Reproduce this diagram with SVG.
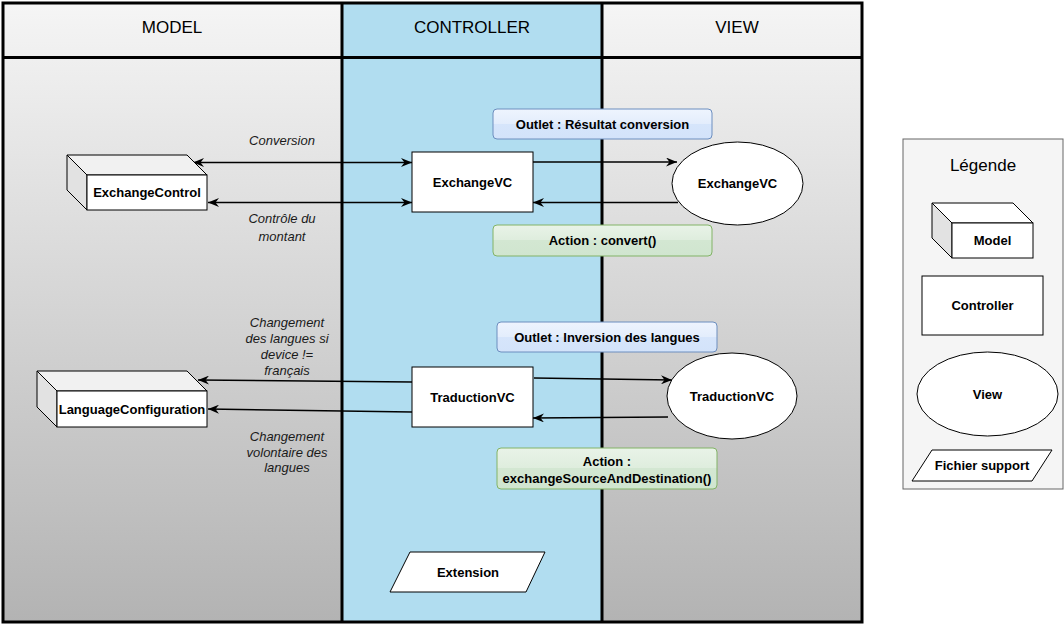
<svg xmlns="http://www.w3.org/2000/svg" width="1064" height="625" viewBox="0 0 1064 625">
  <style>
    .title { font-family: "Liberation Sans", Arial, sans-serif; font-size: 17px; fill: #000; text-anchor: middle; }
    .lbl { font-family: "Liberation Sans", Arial, sans-serif; font-size: 13px; font-weight: bold; fill: #000; text-anchor: middle; }
    .edge-lbl { font-family: "Liberation Sans", Arial, sans-serif; font-size: 13px; font-style: italic; fill: #1a1a1a; text-anchor: middle; }
    .box { fill: #ffffff; stroke: #000; stroke-width: 1; }
    .face-top { fill: #f1f1f1; stroke: #000; stroke-width: 1; }
    .face-left { fill: #e2e2e2; stroke: #000; stroke-width: 1; }
    .lane-line { stroke: #000; stroke-width: 3; fill: none; }
    .conn { stroke: #000; stroke-width: 1.6; fill: none; }
    .outlet { fill: url(#outletFill); stroke: #6c8ebf; stroke-width: 1; }
    .action { fill: url(#actionFill); stroke: #82b366; stroke-width: 1; }
  </style>
  <defs>
    <linearGradient id="laneFill" gradientUnits="userSpaceOnUse" x1="0" y1="3" x2="0" y2="622">
      <stop offset="0" stop-color="#f5f5f5"/>
      <stop offset="1" stop-color="#b3b3b3"/>
    </linearGradient>
    <linearGradient id="outletFill" x1="0" y1="0" x2="0" y2="1">
      <stop offset="0" stop-color="#eef4fe"/>
      <stop offset="0.5" stop-color="#e3edfc"/>
      <stop offset="0.5" stop-color="#d6e5fb"/>
      <stop offset="1" stop-color="#d3e3fa"/>
    </linearGradient>
    <linearGradient id="actionFill" x1="0" y1="0" x2="0" y2="1">
      <stop offset="0" stop-color="#e9f3e8"/>
      <stop offset="0.5" stop-color="#deeddd"/>
      <stop offset="0.5" stop-color="#d3e7d2"/>
      <stop offset="1" stop-color="#d0e5cf"/>
    </linearGradient>
    <marker id="arrow" viewBox="0 0 11 9" refX="11" refY="4.5" markerWidth="11" markerHeight="9" markerUnits="userSpaceOnUse" orient="auto-start-reverse">
      <path d="M0,0 L11,4.5 L0,9 L3.5,4.5 Z" fill="#000"/>
    </marker>
  </defs>

  <rect width="1064" height="625" fill="#ffffff"/>

  <!-- swimlanes -->
  <g id="lanes">
    <rect x="3" y="3" width="339" height="619" fill="url(#laneFill)"/>
    <rect x="342" y="3" width="260" height="619" fill="#b1ddf0"/>
    <rect x="602" y="3" width="260" height="619" fill="url(#laneFill)"/>
    <line class="lane-line" x1="3" y1="57.5" x2="862" y2="57.5"/>
    <line class="lane-line" x1="342" y1="3" x2="342" y2="622"/>
    <line class="lane-line" x1="602" y1="3" x2="602" y2="622"/>
    <rect class="lane-line" x="3" y="3" width="859" height="619"/>
    <text class="title" x="172" y="33">MODEL</text>
    <text class="title" x="472" y="33">CONTROLLER</text>
    <text class="title" x="737" y="33">VIEW</text>
  </g>

  <!-- connectors -->
  <g id="connectors">
    <line class="conn" x1="412" y1="162.5" x2="193" y2="162.5" marker-start="url(#arrow)" marker-end="url(#arrow)"/>
    <line class="conn" x1="412" y1="202.5" x2="208" y2="202.5" marker-start="url(#arrow)" marker-end="url(#arrow)"/>
    <line class="conn" x1="533" y1="162" x2="677" y2="162" marker-end="url(#arrow)"/>
    <line class="conn" x1="678" y1="202.5" x2="533" y2="202.5" marker-end="url(#arrow)"/>
    <line class="conn" x1="412" y1="382" x2="198" y2="380" marker-end="url(#arrow)"/>
    <line class="conn" x1="412" y1="412" x2="208" y2="409" marker-end="url(#arrow)"/>
    <line class="conn" x1="534" y1="378" x2="672" y2="380" marker-end="url(#arrow)"/>
    <line class="conn" x1="668" y1="417" x2="533" y2="418" marker-end="url(#arrow)"/>
    <text class="edge-lbl" x="282" y="145">Conversion</text>
    <text class="edge-lbl" x="282" y="223">Contrôle du</text>
    <text class="edge-lbl" x="282" y="241">montant</text>
    <text class="edge-lbl" x="287" y="327">Changement</text>
    <text class="edge-lbl" x="287" y="343">des langues si</text>
    <text class="edge-lbl" x="287" y="359">device !=</text>
    <text class="edge-lbl" x="287" y="375">français</text>
    <text class="edge-lbl" x="287" y="441">Changement</text>
    <text class="edge-lbl" x="287" y="457">volontaire des</text>
    <text class="edge-lbl" x="287" y="472">langues</text>
  </g>

  <!-- model nodes -->
  <g id="exchange-control">
    <polygon class="face-top" points="67,155 187,155 207,175 87,175"/>
    <polygon class="face-left" points="67,155 87,175 87,210 67,190"/>
    <rect class="box" x="87" y="175" width="120" height="35"/>
    <text class="lbl" x="147" y="197">ExchangeControl</text>
  </g>
  <g id="language-configuration">
    <polygon class="face-top" points="37,371 187,371 207,391 57,391"/>
    <polygon class="face-left" points="37,371 57,391 57,427 37,407"/>
    <rect class="box" x="57" y="391" width="150" height="36"/>
    <text class="lbl" x="132" y="414">LanguageConfiguration</text>
  </g>

  <!-- controller nodes -->
  <g id="exchange-vc">
    <rect class="box" x="412" y="152" width="121" height="60"/>
    <text class="lbl" x="472.5" y="187">ExchangeVC</text>
  </g>
  <g id="traduction-vc">
    <rect class="box" x="412" y="367" width="121" height="60"/>
    <text class="lbl" x="472.5" y="402">TraductionVC</text>
  </g>
  <g id="extension">
    <polygon class="box" points="410,552 545,552 526,592 390,592"/>
    <text class="lbl" x="468" y="577">Extension</text>
  </g>

  <!-- outlets and actions -->
  <g id="outlet-resultat">
    <rect class="outlet" x="493" y="109" width="219" height="30" rx="4"/>
    <text class="lbl" x="602.5" y="129">Outlet : Résultat conversion</text>
  </g>
  <g id="action-convert">
    <rect class="action" x="493" y="225" width="219" height="31" rx="4"/>
    <text class="lbl" x="602.5" y="245">Action : convert()</text>
  </g>
  <g id="outlet-inversion">
    <rect class="outlet" x="497" y="322" width="220" height="30" rx="4"/>
    <text class="lbl" x="607" y="342">Outlet : Inversion des langues</text>
  </g>
  <g id="action-exchange">
    <rect class="action" x="497" y="448" width="220" height="41" rx="4"/>
    <text class="lbl" x="607" y="466">Action :</text>
    <text class="lbl" x="607" y="483">exchangeSourceAndDestination()</text>
  </g>

  <!-- view nodes -->
  <g id="exchange-view">
    <ellipse class="box" cx="737.5" cy="183.5" rx="65.5" ry="41.5"/>
    <text class="lbl" x="737.5" y="188">ExchangeVC</text>
  </g>
  <g id="traduction-view">
    <ellipse class="box" cx="732" cy="396" rx="65" ry="43"/>
    <text class="lbl" x="732" y="401">TraductionVC</text>
  </g>

  <!-- legend -->
  <g id="legend">
    <rect x="903" y="139" width="160" height="350" fill="#f5f5f5" stroke="#666666" stroke-width="1"/>
    <text class="title" x="983" y="171">Légende</text>
    <g id="legend-model">
      <polygon points="932,203 1013,203 1033,223 952,223" fill="#ffffff" stroke="#000" stroke-width="1"/>
      <polygon class="face-left" points="932,203 952,223 952,258 932,238"/>
      <rect class="box" x="952" y="223" width="81" height="35"/>
      <text class="lbl" x="992.5" y="245">Model</text>
    </g>
    <g id="legend-controller">
      <rect class="box" x="922" y="276" width="121" height="59"/>
      <text class="lbl" x="982.5" y="310">Controller</text>
    </g>
    <g id="legend-view">
      <ellipse class="box" cx="987.5" cy="394" rx="70.5" ry="42"/>
      <text class="lbl" x="987.5" y="399">View</text>
    </g>
    <g id="legend-support">
      <polygon class="box" points="932,450 1052,450 1032,481 912,481"/>
      <text class="lbl" x="982" y="470">Fichier support</text>
    </g>
  </g>
</svg>
